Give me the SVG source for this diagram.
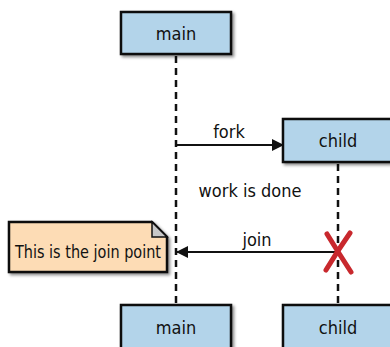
<svg xmlns="http://www.w3.org/2000/svg" width="390" height="347" viewBox="0 0 390 347">
<defs>
<style>
.box{fill:#b3d4ea;stroke:#111;stroke-width:2.5}
.lbl{font-family:"DejaVu Sans Condensed","Liberation Sans",sans-serif;font-size:18px;fill:#111;text-anchor:middle}
.life{stroke:#111;stroke-width:2.5;stroke-dasharray:7,5;fill:none}
.msg{stroke:#111;stroke-width:2;fill:none}
</style>
<marker id="ah" markerWidth="12" markerHeight="12" refX="11" refY="6" orient="auto" markerUnits="userSpaceOnUse">
<path d="M0,0 L12,6 L0,12 Z" fill="#111"/>
</marker>
<filter id="sh" x="-10%" y="-10%" width="130%" height="140%"><feDropShadow dx="2" dy="2" stdDeviation="1.5" flood-color="#000" flood-opacity="0.45"/></filter>
</defs>
<g id="connectors">
<line class="life" x1="176" y1="56" x2="176" y2="304"/>
<line class="life" x1="338" y1="164" x2="338" y2="304"/>
<line class="msg" x1="176" y1="145" x2="283" y2="145" marker-end="url(#ah)"/>
<text class="lbl" x="229" y="138">fork</text>
<line class="msg" x1="336" y1="252" x2="177" y2="252" marker-end="url(#ah)"/>
<text class="lbl" x="257" y="246">join</text>
</g>
<g id="main-top"><rect class="box" filter="url(#sh)" x="121" y="12" width="110" height="42"/><text class="lbl" x="176" y="40">main</text></g>
<g id="child-top"><rect class="box" filter="url(#sh)" x="283" y="119" width="120" height="43"/><text class="lbl" x="338" y="147">child</text></g>
<g id="work"><text class="lbl" x="250" y="197">work is done</text></g>
<g id="note">
<path d="M9,222 L152,222 L167,237 L167,272 L9,272 Z" fill="#fddcb5" stroke="#111" stroke-width="2.5" filter="url(#sh)"/>
<path d="M152,222 L152,237 L167,237 Z" fill="#c8c8c8" stroke="#111" stroke-width="1.5"/>
<text class="lbl" x="88" y="258" textLength="146" lengthAdjust="spacingAndGlyphs">This is the join point</text>
</g>
<g id="destroy">
<path d="M327,234 Q338,252 351,272" stroke="#c8282d" stroke-width="5" fill="none" stroke-linecap="round"/>
<path d="M350,233 Q338,250 326,270" stroke="#c8282d" stroke-width="5" fill="none" stroke-linecap="round"/>
</g>
<g id="main-bottom"><rect class="box" filter="url(#sh)" x="121" y="305" width="110" height="50"/><text class="lbl" x="176" y="334">main</text></g>
<g id="child-bottom"><rect class="box" filter="url(#sh)" x="283" y="305" width="120" height="50"/><text class="lbl" x="338" y="334">child</text></g>
</svg>
